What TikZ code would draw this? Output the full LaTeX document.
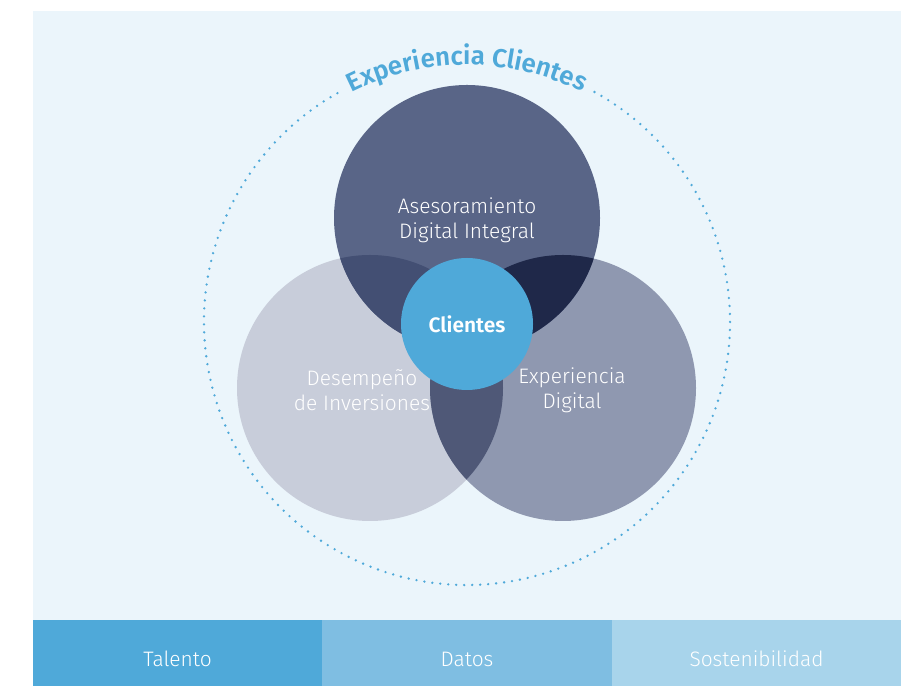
\documentclass[tikz,border=0pt]{standalone}
\usepackage{fontspec}
\setmainfont{Fira Sans Light}[BoldFont={Fira Sans SemiBold}]
\usetikzlibrary{decorations.text}
\definecolor{panel}{HTML}{EBF5FB}
\definecolor{topc}{HTML}{596587}
\definecolor{leftc}{HTML}{C8CDDA}
\definecolor{rightc}{HTML}{8F98B0}
\definecolor{tl}{HTML}{434F73}
\definecolor{tr}{HTML}{1F2849}
\definecolor{lr}{HTML}{4F5877}
\definecolor{cli}{HTML}{4FA9D9}
\definecolor{barA}{HTML}{4FA9D9}
\definecolor{barB}{HTML}{7FBEE2}
\definecolor{barC}{HTML}{A8D4EB}
\tikzset{
  lbl/.style={text=white, font=\fontsize{21}{25}\selectfont, align=center},
  barlbl/.style={text=white, font=\fontsize{21}{23}\selectfont},
}
\begin{document}
\begin{tikzpicture}[x=1bp,y=1bp]
\useasboundingbox (0,0) rectangle (921,686);
\fill[panel] (33,66) rectangle (901,675);
\fill[barA] (33,0) rectangle (322,66);
\fill[barB] (322,0) rectangle (612,66);
\fill[barC] (612,0) rectangle (901,66);
\node[barlbl] (talento) at (177.5,27) {Talento};
\node[barlbl] (datos) at (467,27) {Datos};
\node[barlbl] (sost) at (756.5,27) {Sostenibilidad};
% dotted ring
\coordinate (ring) at (467,364);
\draw[cli, line width=2.6bp, line cap=round, dash pattern=on 0bp off 8bp]
  (ring) ++(61:263) arc[start angle=61, end angle=-241, radius=263];
\path[decorate, decoration={text along path, text align=center,
  text={|\fontsize{26}{26}\selectfont\bfseries\color{cli}|Experiencia Clientes}}]
  (ring) ++(125:257) arc[start angle=125, end angle=55, radius=257];
% circles
\coordinate (ct) at (467,468);
\coordinate (cl) at (370,298);
\coordinate (cr) at (563,298);
\fill[leftc] (cl) circle[radius=133];
\fill[rightc] (cr) circle[radius=133];
\fill[topc] (ct) circle[radius=133];
\begin{scope}
  \clip (ct) circle[radius=133];
  \fill[tl] (cl) circle[radius=133];
\end{scope}
\begin{scope}
  \clip (ct) circle[radius=133];
  \fill[tr] (cr) circle[radius=133];
\end{scope}
\begin{scope}
  \clip (cl) circle[radius=133];
  \fill[lr] (cr) circle[radius=133];
\end{scope}
\node[circle, fill=cli, minimum size=132bp, inner sep=0pt, text=white,
  font=\fontsize{21}{21}\selectfont\bfseries] (clientes) at (467,362) {Clientes};
\node[lbl] (ase) at (467,466) {Asesoramiento\\Digital Integral};
\node[lbl] (des) at (362,296) {Desempeño\\de Inversiones};
\node[lbl] (exp) at (572,296) {Experiencia\\Digital};
\end{tikzpicture}
\end{document}
